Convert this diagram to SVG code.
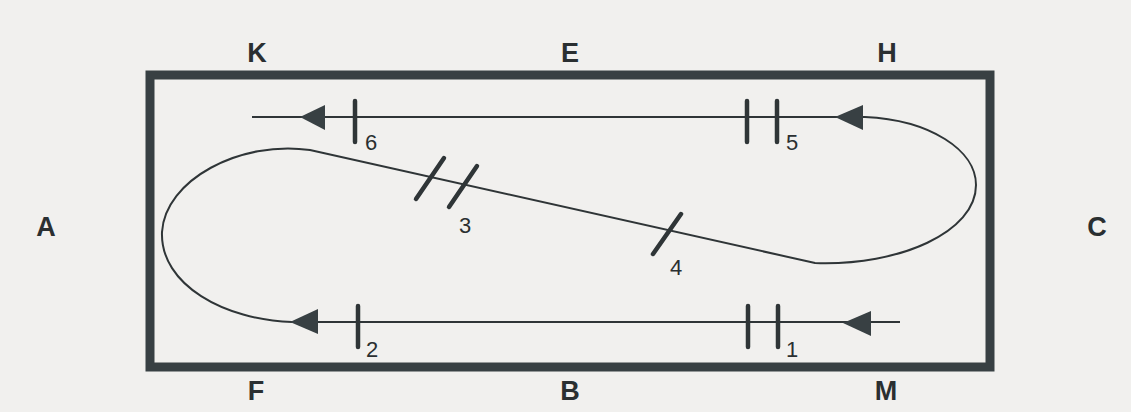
<svg xmlns="http://www.w3.org/2000/svg" width="1131" height="412" viewBox="0 0 1131 412">
<style>
.bg{fill:#f1f0ee}
.arena{fill:none;stroke:#384043;stroke-width:9}
.path{fill:none;stroke:#2f3537;stroke-width:2}
.tick{stroke:#2f3537;stroke-width:4.5;stroke-linecap:round}
.head{fill:#384043}
.big{font-family:"Liberation Sans",Arial,sans-serif;font-weight:bold;font-size:27px;fill:#2a2f31;text-anchor:middle}
.num{font-family:"Liberation Sans",Arial,sans-serif;font-size:22px;fill:#2a2f31}
</style>
<rect class="bg" x="0" y="0" width="1131" height="412"/>
<g id="arena"><rect class="arena" x="150" y="75" width="840" height="292"/></g>
<g id="letters">
<text class="big" x="257" y="62">K</text>
<text class="big" x="570" y="62">E</text>
<text class="big" x="887" y="62">H</text>
<text class="big" x="46" y="236">A</text>
<text class="big" x="1097" y="236">C</text>
<text class="big" x="256" y="400">F</text>
<text class="big" x="570" y="400">B</text>
<text class="big" x="886" y="400">M</text>
</g>
<g id="connectors">
<path class="path" d="M900,322 L295,322"/>
<path class="path" d="M252,117 L865,117"/>
<path class="path" d="M865,117 C930,120 976,150 976,185 C976,232 900,266 815,263 L310,150 C240,140 165,180 162,232 C160,285 225,320 292,322"/>
<polygon class="head" points="843,323 871,311 871,336"/>
<polygon class="head" points="290,322 318,309 318,334"/>
<polygon class="head" points="835,117 863,105 863,130"/>
<polygon class="head" points="300,117 325,105 325,130"/>
</g>
<g id="markers">
<line class="tick" x1="748" y1="306" x2="748" y2="347"/>
<line class="tick" x1="778" y1="306" x2="778" y2="347"/>
<text class="num" x="786" y="357">1</text>
<line class="tick" x1="358" y1="306" x2="358" y2="347"/>
<text class="num" x="366" y="357">2</text>
<line class="tick" x1="416" y1="199" x2="444" y2="158"/>
<line class="tick" x1="449" y1="207" x2="477" y2="166"/>
<text class="num" x="459" y="233">3</text>
<line class="tick" x1="653" y1="254" x2="681" y2="214"/>
<text class="num" x="670" y="275">4</text>
<line class="tick" x1="747" y1="101" x2="747" y2="142"/>
<line class="tick" x1="777" y1="101" x2="777" y2="142"/>
<text class="num" x="786" y="150">5</text>
<line class="tick" x1="355" y1="101" x2="355" y2="142"/>
<text class="num" x="365" y="150">6</text>
</g>
</svg>
